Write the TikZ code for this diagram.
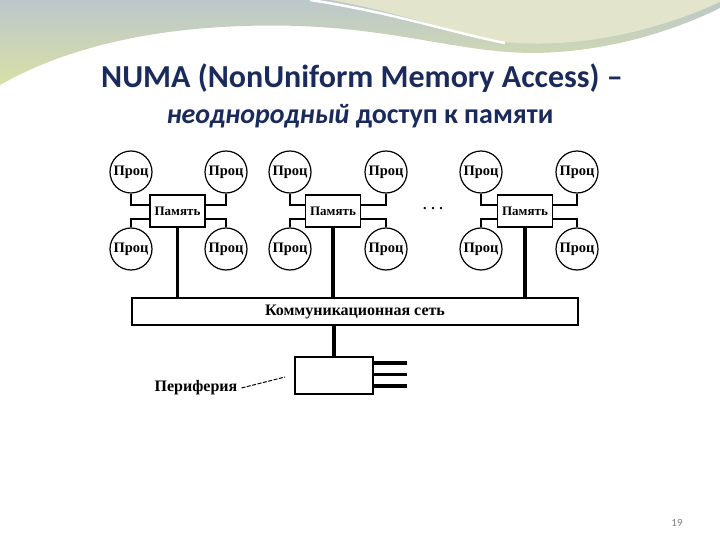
\documentclass[tikz,border=0pt]{standalone}
\usepackage{fontspec}
\setmainfont{Liberation Serif}
\newfontfamily\titlefont{Carlito}
\usetikzlibrary{calc}
\definecolor{titleblue}{HTML}{1A2A5C}
\definecolor{bandtop}{HTML}{BCC7CB}
\definecolor{bandbot}{HTML}{D8E0A6}
\definecolor{beige}{HTML}{E2E4CB}
\begin{document}
\begin{tikzpicture}[x=1pt,y=-1pt,
  proc/.style={circle, draw, line width=1.2pt, minimum size=42pt, inner sep=0pt,
    font=\bfseries\fontsize{14.5}{14.5}\selectfont},
  membox/.style={rectangle, draw, fill=white, line width=1.1pt, minimum width=55pt,
    minimum height=32pt, inner sep=0pt, font=\bfseries\fontsize{13}{13}\selectfont},
  netbox/.style={rectangle, draw, line width=1.1pt, minimum width=446pt,
    minimum height=27pt, inner sep=0pt, font=\bfseries\fontsize{16}{16}\selectfont},
  link/.style={line width=1.1pt},
  bus/.style={line width=3.5pt},
  lbl/.style={font=\bfseries\fontsize{16}{16}\selectfont, inner sep=4pt},
  ttl/.style={font=\titlefont\bfseries, text=titleblue}]
\useasboundingbox (0,0) rectangle (720,540);
% background band
\shade[top color=bandtop, bottom color=bandbot]
  (0,0) -- (0,85) .. controls (70,45) and (170,22) .. (300,26)
  .. controls (400,30) and (460,52) .. (530,53)
  .. controls (610,53) and (680,28) .. (720,8) -- (720,0) -- cycle;
\fill[beige] (330,0) .. controls (400,12) and (450,32) .. (505,42)
  .. controls (590,50) and (670,25) .. (720,2) -- (720,0) -- cycle;
\draw[white, line width=2.5pt] (310,0) .. controls (390,12) and (450,32) .. (505,43);
% title
\node[ttl, font=\titlefont\bfseries\fontsize{32}{32}\selectfont] (t1) at (362,78) {NUMA (NonUniform Memory Access) –};
\node[ttl, font=\titlefont\bfseries\fontsize{28}{28}\selectfont] (t2) at (360,116) {\textit{неоднородный} доступ к памяти};
% network
\node[netbox] (net) at (355,311.5) {Коммуникационная сеть};
% groups
\foreach \g/\a/\b/\m in {1/131/226/177.5, 2/290/386/333, 3/481/577/525}{
  \node[proc] (pt\g a) at (\a,172) {Проц};
  \node[proc] (pt\g b) at (\b,172) {Проц};
  \node[proc] (pb\g a) at (\a,249) {Проц};
  \node[proc] (pb\g b) at (\b,249) {Проц};
  \node[membox] (m\g) at (\m,211) {Память};
  \draw[link] (pt\g a.south) |- ([yshift=6pt]m\g.west);
  \draw[link] (pb\g a.north) |- ([yshift=-8pt]m\g.west);
  \draw[link] (pt\g b.south) |- ([yshift=6pt]m\g.east);
  \draw[link] (pb\g b.north) |- ([yshift=-8pt]m\g.east);
  \draw[bus] (m\g.south) -- (m\g.south |- net.north);
}
\node[font=\bfseries\fontsize{14}{14}\selectfont] (dots) at (433,209) {. . .};
% peripheral
\node[rectangle, draw, line width=1.1pt, minimum width=78pt, minimum height=37pt, inner sep=0pt] (per) at (334,375.5) {};
\draw[bus] (per.north) -- (per.north |- net.south);
\coordinate (o1) at (407,363);
\coordinate (o2) at (407,374.5);
\coordinate (o3) at (407,386);
\draw[bus] (per.east |- o1) -- (o1);
\draw[bus] (per.east |- o2) -- (o2);
\draw[bus] (per.east |- o3) -- (o3);
\node[lbl] (plab) at (196,388) {Периферия};
\coordinate (ptr) at (285,377);
\draw[line width=1pt, dash pattern=on 4pt off 1.5pt] (plab.east) -- (ptr);
% page number
\node[font=\titlefont\fontsize{11}{11}\selectfont, text=gray] (pg) at (677,523) {19};
\end{tikzpicture}
\end{document}
